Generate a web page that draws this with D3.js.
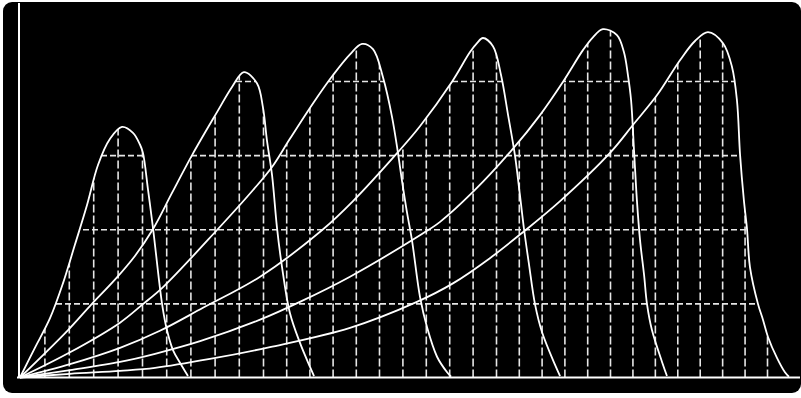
<!DOCTYPE html>
<html>
<head>
<meta charset="utf-8">
<script src="https://cdn.jsdelivr.net/npm/d3@7"></script>
<style>
  html, body { margin: 0; padding: 0; background: #fff; }
  svg { display: block; }
</style>
</head>
<body>
<svg id="chart"></svg>
<script>
// six pulses: [time, amplitude], both in grid divisions
const pulse1 = [[0,0],[0.61,0.40],[1.23,0.80],[1.76,1.27],[2.25,1.79],[2.75,2.33],[3.20,2.87],[3.69,3.22],[4.18,3.38],[4.63,3.30],[4.92,3.14],[5.04,3.03],[5.25,2.53],[5.45,2.03],[5.83,0.99],[6.03,0.64],[6.28,0.37],[6.57,0.20],[6.90,0.02]];
const pulse2 = [[0,0],[1.97,0.64],[2.91,0.98],[3.89,1.32],[4.71,1.64],[5.45,2.00],[6.24,2.49],[7.07,3.00],[8.10,3.58],[8.72,3.92],[9.21,4.12],[9.75,3.97],[10.00,3.64],[10.17,3.20],[10.39,2.73],[10.60,2.03],[10.82,1.49],[11.16,0.87],[11.59,0.47],[12.03,0.14],[12.20,0.02]];
const pulse3 = [[0,0],[2.05,0.34],[4.10,0.74],[5.04,0.99],[5.87,1.22],[8.10,1.99],[9.59,2.53],[10.39,2.84],[11.16,3.22],[12.16,3.70],[13.02,4.08],[13.75,4.36],[14.27,4.50],[14.74,4.43],[15.17,4.05],[15.56,3.51],[15.81,3.03],[15.98,2.66],[16.20,2.22],[16.41,1.85],[16.75,1.09],[17.05,0.68],[17.48,0.28],[17.91,0.07],[18.08,0.01]];
const pulse4 = [[0,0],[2.05,0.18],[4.10,0.40],[5.74,0.63],[7.52,0.94],[9.88,1.36],[12.59,2.00],[13.88,2.38],[15.81,3.04],[16.75,3.39],[18.12,3.99],[18.89,4.39],[19.19,4.51],[19.44,4.58],[19.87,4.47],[20.22,4.08],[20.53,3.54],[20.83,3.00],[21.05,2.46],[21.23,2.00],[21.45,1.52],[21.71,0.99],[22.02,0.61],[22.59,0.17],[22.81,0.02]];
const pulse5 = [[0,0],[2.05,0.10],[4.10,0.21],[5.54,0.32],[7.40,0.49],[9.88,0.78],[11.59,1.02],[13.75,1.36],[16.75,1.92],[17.61,2.10],[19.10,2.53],[20.70,3.07],[21.93,3.54],[22.94,3.99],[23.82,4.42],[24.25,4.59],[24.69,4.70],[25.31,4.62],[25.62,4.39],[25.80,4.08],[25.94,3.74],[26.07,3.07],[26.20,2.39],[26.34,1.85],[26.52,1.38],[26.65,0.99],[26.87,0.64],[27.32,0.21],[27.54,0.02]];
const pulse6 = [[0,0],[2.05,0.05],[4.10,0.09],[5.54,0.13],[7.81,0.25],[10.30,0.41],[13.75,0.67],[16.62,1.02],[18.16,1.27],[19.74,1.61],[21.18,1.96],[22.81,2.38],[25.00,3.03],[26.03,3.41],[27.10,3.81],[28.12,4.28],[28.79,4.54],[29.37,4.66],[30.04,4.51],[30.44,4.19],[30.66,3.74],[30.80,3.00],[30.97,2.39],[31.11,2.00],[31.24,1.49],[31.60,0.99],[31.82,0.78],[32.04,0.55],[32.45,0.26],[32.80,0.07],[32.98,0.01]];

const gridX = [1,2,3,4,5,6,7,8,9,10,11,12,13,14,15,16,17,18,19,20,21,22,23,24,25,26,27,28,29,30,31,32];
const gridY = [1,2,3,4];

const pulses = [pulse1, pulse2, pulse3, pulse4, pulse5, pulse6];

const width = 801, height = 398;

const svg = d3.select('#chart')
  .attr('width', width)
  .attr('height', height);

// the photo is a bit stretched on the left, so time is piecewise linear
const x = d3.scaleLinear()
  .domain([0, 5, 10, 15, 20, 25, 32])
  .range([20, 142, 263, 379, 496, 610, 767]);

const y = d3.scaleLinear()
  .domain([0, 4])
  .range([377.5, 81]);

// screen
svg.append('rect')
  .attr('x', 3).attr('y', 2)
  .attr('width', 798).attr('height', 391)
  .attr('rx', 9)
  .attr('fill', '#000');

const curve = d3.curveCatmullRom.alpha(0.5);

const line = d3.line()
  .x(d => x(d[0]))
  .y(d => y(d[1]))
  .curve(curve);

const area = d3.area()
  .x(d => x(d[0]))
  .y0(y(0))
  .y1(d => y(d[1]))
  .curve(curve);

// grid only shows up under the pulses
svg.append('clipPath')
  .attr('id', 'under')
  .selectAll('path')
  .data(pulses)
  .join('path')
  .attr('d', area);

const grid = svg.append('g')
  .attr('clip-path', 'url(#under)')
  .style('color', '#e6e6e6');

grid.append('g')
  .attr('transform', `translate(0, ${y(0)})`)
  .call(d3.axisBottom(x).tickValues(gridX).tickSize(-(y(0) - y(4.9))).tickFormat(''))
  .call(g => g.select('.domain').remove())
  .call(g => g.selectAll('line')
    .attr('stroke-width', 1.6)
    .attr('stroke-dasharray', '8,3'));

grid.append('g')
  .attr('transform', `translate(${x(0)}, 0)`)
  .call(d3.axisLeft(y).tickValues(gridY).tickSize(-(x(34) - x(0))).tickFormat(''))
  .call(g => g.select('.domain').remove())
  .call(g => g.selectAll('line')
    .attr('stroke-width', 1.6)
    .attr('stroke-dasharray', '6,3'));

// axes
svg.append('line')
  .attr('x1', x(0) - 1).attr('x2', x(0) - 1)
  .attr('y1', 3).attr('y2', y(0))
  .attr('stroke', '#fff')
  .attr('stroke-width', 2);

svg.append('line')
  .attr('x1', 17).attr('x2', 800)
  .attr('y1', y(0)).attr('y2', y(0))
  .attr('stroke', '#fff')
  .attr('stroke-width', 2);

// traces
svg.append('g')
  .selectAll('path')
  .data(pulses)
  .join('path')
  .attr('d', line)
  .attr('fill', 'none')
  .attr('stroke', '#fff')
  .attr('stroke-width', 1.8);
</script>
</body>
</html>
